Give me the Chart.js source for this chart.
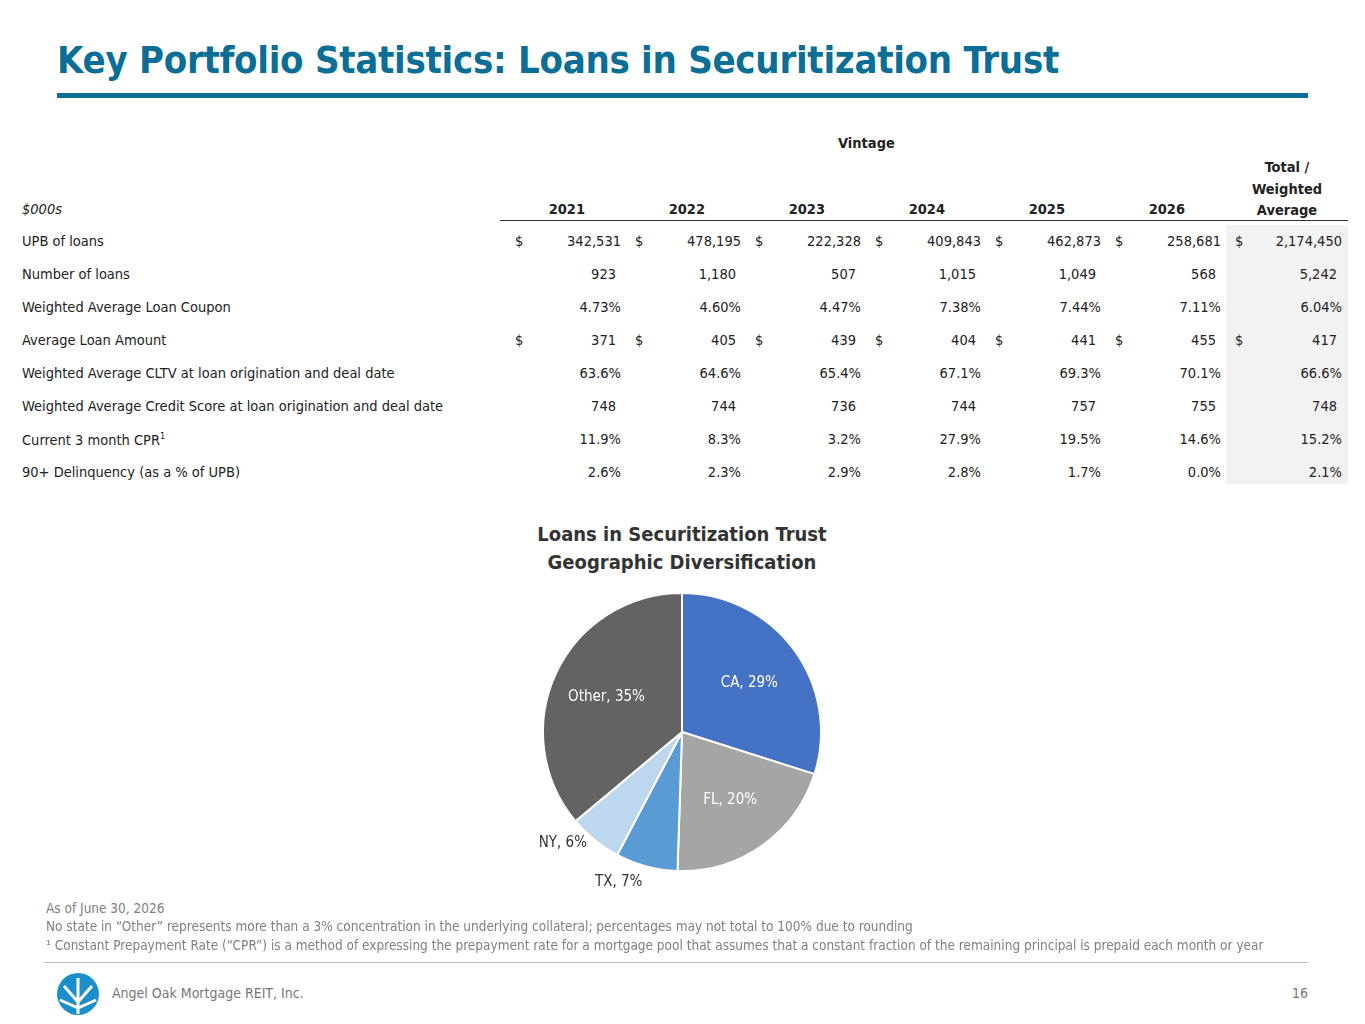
<!DOCTYPE html>
<html><head><meta charset="utf-8">
<script src="https://cdn.jsdelivr.net/npm/chart.js@4"></script>
<style>
body{margin:0;width:1365px;height:1024px;position:relative;background:#fff;font-family:"DejaVu Sans Condensed","DejaVu Sans",sans-serif;color:#222;overflow:hidden}
.a{position:absolute;white-space:nowrap}
#title{left:57px;top:38px;font-size:38px;font-weight:bold;color:#0a6e96;letter-spacing:-0.3px}
#rule{left:57px;top:93px;width:1251px;height:5px;background:#0a6e96}
.c{font-size:14.5px}
.note{font-size:13.5px;color:#808080}
</style></head><body>
<div class="a" id="title">Key Portfolio Statistics: Loans in Securitization Trust</div>
<div class="a" id="rule"></div>
<div id="tbl"></div>
<div class="a" style="left:482px;top:520px;width:400px;text-align:center;font-size:20px;font-weight:bold;color:#333;line-height:28px;white-space:normal">Loans in Securitization Trust<br>Geographic Diversification</div>
<div class="a" style="left:482px;top:532px;width:400px;height:400px"><canvas id="pie"></canvas></div>
<div class="a note" style="left:46px;top:900px">As of June 30, 2026</div>
<div class="a note" style="left:46px;top:918px">No state in “Other” represents more than a 3% concentration in the underlying collateral; percentages may not total to 100% due to rounding</div>
<div class="a note" style="left:46px;top:937px">¹ Constant Prepayment Rate (“CPR”) is a method of expressing the prepayment rate for a mortgage pool that assumes that a constant fraction of the remaining principal is prepaid each month or year</div>
<div class="a" style="left:44px;top:962px;width:1264px;height:1px;background:#bbb"></div>
<svg class="a" style="left:56px;top:972px" width="44" height="44" viewBox="0 0 44 44"><circle cx="22" cy="22" r="21" fill="#1a8fc9"/><g stroke="#fff" stroke-width="3"><line x1="22" y1="42" x2="22" y2="6"/><line x1="22" y1="30" x2="8" y2="14"/><line x1="22" y1="30" x2="36" y2="14"/><line x1="22" y1="36" x2="4" y2="28"/><line x1="22" y1="36" x2="40" y2="28"/></g></svg>
<div class="a" style="left:112px;top:985px;font-size:14px;color:#777">Angel Oak Mortgage REIT, Inc.</div>
<div class="a" style="left:1280px;top:985px;width:28px;text-align:right;font-size:14px;color:#777">16</div>
<script>
const years = ['2021','2022','2023','2024','2025','2026'];
const rowLabels = ['UPB of loans','Number of loans','Weighted Average Loan Coupon','Average Loan Amount','Weighted Average CLTV at loan origination and deal date','Weighted Average Credit Score at loan origination and deal date','Current 3 month CPR<sup style="font-size:9px">1</sup>','90+ Delinquency (as a % of UPB)'];
const dollarRows = [true,false,false,true,false,false,false,false];
const rowValues = [
  ['342,531','478,195','222,328','409,843','462,873','258,681','2,174,450'],
  ['923','1,180','507','1,015','1,049','568','5,242'],
  ['4.73%','4.60%','4.47%','7.38%','7.44%','7.11%','6.04%'],
  ['371','405','439','404','441','455','417'],
  ['63.6%','64.6%','65.4%','67.1%','69.3%','70.1%','66.6%'],
  ['748','744','736','744','757','755','748'],
  ['11.9%','8.3%','3.2%','27.9%','19.5%','14.6%','15.2%'],
  ['2.6%','2.3%','2.9%','2.8%','1.7%','0.0%','2.1%']
];
const pieLabels = ['CA','FL','TX','NY','Other'];
const pieValues = [29,20,7,6,35];
const pieColors = ['#4472c4','#a5a5a5','#5b9bd5','#bdd7ee','#636363'];

let h = '';
const div = (x,y,txt,st) => `<div class="a c" style="left:${x}px;top:${y}px;${st||''}">${txt}</div>`;
const rdiv = (r,y,txt,st) => `<div class="a c" style="left:${r-200}px;width:200px;text-align:right;top:${y}px;${st||''}">${txt}</div>`;
h += `<div class="a" style="left:1226px;top:225px;width:122px;height:259px;background:#f2f2f2"></div>`;
h += `<div class="a" style="left:500px;top:220px;width:848px;height:1px;background:#333"></div>`;
h += div(838,135,'Vintage','font-weight:bold');
h += div(22,201,'$000s','font-style:italic');
years.forEach((y,i)=>{ h += rdiv(621+120*i-36,201,y,'font-weight:bold'); });
h += `<div class="a c" style="left:1226px;width:122px;top:157px;text-align:center;font-weight:bold;line-height:21.5px;white-space:normal">Total /<br>Weighted<br>Average</div>`;
rowLabels.forEach((l,r)=>{
  const y = 233 + 33*r;
  h += div(22,y,l);
  rowValues[r].forEach((v,i)=>{
    const right = (i<6 ? 621+120*i : 1342) - (r===1||r===3||r===5 ? 5 : 0);
    if (dollarRows[r]) h += div(515+120*i,y,'$');
    h += rdiv(right,y,v);
  });
});
document.getElementById('tbl').innerHTML = h;

const labelPlugin = {
  id:'pieLabels',
  afterDraw(chart){
    const {ctx} = chart;
    const meta = chart.getDatasetMeta(0);
    ctx.save();
    ctx.font = '15px "DejaVu Sans Condensed", sans-serif';
    ctx.textAlign='center'; ctx.textBaseline='middle';
    meta.data.forEach((arc,i)=>{
      const outside = pieValues[i] < 10;
      const mid = (arc.startAngle+arc.endAngle)/2 + (outside ? 0.14 : 0);
      const rr = outside ? arc.outerRadius+24 : arc.outerRadius*0.6;
      ctx.fillStyle = outside ? '#333' : '#fff';
      ctx.fillText(pieLabels[i]+', '+pieValues[i]+'%', arc.x+Math.cos(mid)*rr, arc.y+Math.sin(mid)*rr);
    });
    ctx.restore();
  }
};
new Chart(document.getElementById('pie'),{
  type:'pie',
  data:{labels:pieLabels,datasets:[{data:pieValues,backgroundColor:pieColors,borderColor:'#fff',borderWidth:2}]},
  options:{responsive:true,maintainAspectRatio:false,animation:false,layout:{padding:60},
    plugins:{legend:{display:false},tooltip:{enabled:false}}},
  plugins:[labelPlugin]
});
</script>
</body></html>
